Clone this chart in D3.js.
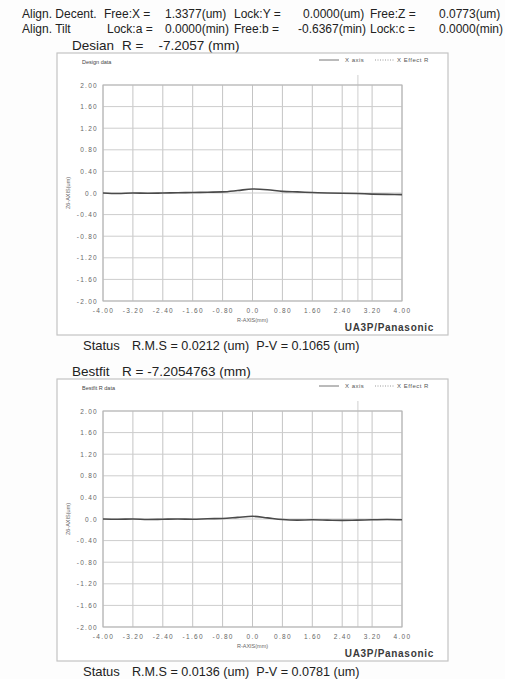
<!DOCTYPE html>
<html lang="en">
<head>
<meta charset="UTF-8">
<title>UA3P profile</title>
<script src="https://d3js.org/d3.v7.min.js"></script>
<style>
  body { margin: 0; background: #fdfdfd; }
  svg { font-family: "Liberation Sans", Arial, sans-serif; }
</style>
</head>
<body>
<div id="chart"></div>
<script>
// sample positions along R (mm)
const rPos = [-4.0, -3.6, -3.2, -2.8, -2.4, -2.0, -1.6, -1.2, -0.8, -0.4, 0.0,
              0.4, 0.8, 1.2, 1.6, 2.0, 2.4, 2.8, 3.2, 3.6, 4.0];
// Z6 deviation (um)
const designZ = [0.0, -0.01, 0.0, -0.005, 0.0, 0.005, 0.01, 0.015, 0.02, 0.045, 0.075,
                 0.06, 0.03, 0.02, 0.01, 0.0, -0.005, -0.01, -0.02, -0.025, -0.03];
const bestfitZ = [0.0, -0.005, 0.0, -0.01, -0.005, 0.0, -0.005, 0.005, 0.01, 0.03, 0.05,
                  0.02, -0.01, -0.02, -0.015, -0.02, -0.025, -0.02, -0.015, -0.01, -0.015];
const xTicks = [-4.0, -3.2, -2.4, -1.6, -0.8, 0.0, 0.8, 1.6, 2.4, 3.2, 4.0];
const yTicks = [2.0, 1.6, 1.2, 0.8, 0.4, 0.0, -0.4, -0.8, -1.2, -1.6, -2.0];
const effectR = 2.82;

const headerRows = [
  ["Align. Decent.", "Free:X =", "1.3377(um)", "Lock:Y =", "0.0000(um)", "Free:Z =", "0.0773(um)"],
  ["Align. Tilt", "Lock:a =", "0.0000(min)", "Free:b =", "-0.6367(min)", "Lock:c =", "0.0000(min)"]
];
const headerX = [
  [22, 104, 165, 234, 303, 370, 439],
  [22, 107, 165, 234, 298, 370, 439]
];

const panels = [
  { top: 53, title: "Desian", rText: "R =    -7.2057 (mm)", inner: "Design data", z: designZ,
    status: "R.M.S = 0.0212 (um)  P-V = 0.1065 (um)" },
  { top: 379, title: "Bestfit", rText: "R = -7.2054763 (mm)", inner: "Bestfit R data", z: bestfitZ,
    status: "R.M.S = 0.0136 (um)  P-V = 0.0781 (um)" }
];

const W = 505, H = 679;
const svg = d3.select("#chart").append("svg")
  .attr("width", W).attr("height", H);

// header lines
headerRows.forEach(function (row, i) {
  svg.append("g").selectAll("text")
    .data(row).enter().append("text")
    .attr("x", function (d, j) { return headerX[i][j]; })
    .attr("y", 18 + i * 15)
    .attr("font-size", 12)
    .attr("fill", "#222")
    .text(function (d) { return d; });
});

function fmt(v) {
  if (v === 0) return "0.0";
  return v.toFixed(2);
}

function drawPanel(p) {
  const boxL = 57, boxR = 448, boxH = 282;
  const g = svg.append("g");

  g.append("text").attr("x", 72).attr("y", p.top - 3)
    .attr("font-size", 13.5).attr("fill", "#222").text(p.title);
  g.append("text").attr("x", 122).attr("y", p.top - 3)
    .attr("font-size", 13.5).attr("fill", "#222")
    .style("white-space", "pre").text(p.rText);

  g.append("rect").attr("x", boxL).attr("y", p.top)
    .attr("width", boxR - boxL).attr("height", boxH)
    .attr("fill", "#fff").attr("stroke", "#c4c4c4").attr("stroke-width", 1.2);

  g.append("text").attr("x", 82).attr("y", p.top + 11)
    .attr("font-size", 5.5).attr("fill", "#444").text(p.inner);

  // legend
  const ly = p.top + 7;
  g.append("line").attr("x1", 319).attr("x2", 339).attr("y1", ly).attr("y2", ly)
    .attr("stroke", "#777").attr("stroke-width", 1);
  g.append("text").attr("x", 345).attr("y", ly + 2).attr("font-size", 6)
    .attr("fill", "#555").attr("letter-spacing", 0.5).text("X axis");
  g.append("line").attr("x1", 375).attr("x2", 394).attr("y1", ly).attr("y2", ly)
    .attr("stroke", "#999").attr("stroke-width", 1).attr("stroke-dasharray", "1,1.5");
  g.append("text").attr("x", 397).attr("y", ly + 2).attr("font-size", 6)
    .attr("fill", "#555").attr("letter-spacing", 0.5).text("X Effect R");

  const plotTop = p.top + 32, plotBot = p.top + 248;
  const x = d3.scaleLinear().domain([-4, 4]).range([103, 402]);
  const y = d3.scaleLinear().domain([-2, 2]).range([plotBot, plotTop]);

  // grid
  g.append("g").selectAll("line.v").data(xTicks).enter().append("line")
    .attr("x1", function (d) { return x(d); }).attr("x2", function (d) { return x(d); })
    .attr("y1", plotTop).attr("y2", plotBot)
    .attr("stroke", "#c4c4c4").attr("stroke-width", 1);
  g.append("g").selectAll("line.h").data(yTicks).enter().append("line")
    .attr("y1", function (d) { return y(d); }).attr("y2", function (d) { return y(d); })
    .attr("x1", x(-4)).attr("x2", x(4))
    .attr("stroke", "#cdcdcd").attr("stroke-width", 1);

  // effect R marker
  g.append("line").attr("x1", x(effectR)).attr("x2", x(effectR))
    .attr("y1", plotTop - 10).attr("y2", plotBot)
    .attr("stroke", "#cfcfcf").attr("stroke-width", 1);

  g.append("rect").attr("x", x(-4)).attr("y", plotTop)
    .attr("width", x(4) - x(-4)).attr("height", plotBot - plotTop)
    .attr("fill", "none").attr("stroke", "#b5b5b5").attr("stroke-width", 1);

  // axes (labels only)
  const yAxis = g.append("g").attr("transform", "translate(" + x(-4) + ",0)")
    .call(d3.axisLeft(y).tickValues(yTicks).tickFormat(fmt).tickSize(0).tickPadding(5));
  const xAxis = g.append("g").attr("transform", "translate(0," + plotBot + ")")
    .call(d3.axisBottom(x).tickValues(xTicks).tickFormat(fmt).tickSize(0).tickPadding(7));
  [yAxis, xAxis].forEach(function (a) {
    a.select(".domain").remove();
    a.selectAll("text").attr("font-size", 6.5).attr("fill", "#666")
      .attr("font-family", "Liberation Sans, Arial, sans-serif")
      .attr("letter-spacing", 1.3);
  });

  g.append("text").attr("x", (x(-4) + x(4)) / 2).attr("y", plotBot + 21)
    .attr("text-anchor", "middle").attr("font-size", 5.5).attr("fill", "#666")
    .text("R-AXIS(mm)");
  g.append("text")
    .attr("transform", "translate(70," + y(0) + ") rotate(-90)")
    .attr("text-anchor", "middle").attr("font-size", 5.5).attr("fill", "#666")
    .text("Z6-AXIS(um)");
  g.append("text").attr("x", 434).attr("y", p.top + 281 - 3)
    .attr("text-anchor", "end").attr("font-size", 10).attr("font-weight", "bold")
    .attr("fill", "#3a3a3a").attr("letter-spacing", 0.7).text("UA3P/Panasonic");

  // profile line
  const line = d3.line()
    .x(function (d, i) { return x(rPos[i]); })
    .y(function (d) { return y(d); })
    .curve(d3.curveMonotoneX);
  g.append("path").datum(p.z).attr("d", line)
    .attr("fill", "none").attr("stroke", "#4a4a4a").attr("stroke-width", 1.6);

  // status line
  const sy = p.top + 297;
  g.append("text").attr("x", 83).attr("y", sy).attr("font-size", 13)
    .attr("fill", "#222").text("Status");
  g.append("text").attr("x", 132).attr("y", sy).attr("font-size", 12.6)
    .attr("fill", "#222").style("white-space", "pre").text(p.status);
}

panels.forEach(drawPanel);
</script>
</body>
</html>
